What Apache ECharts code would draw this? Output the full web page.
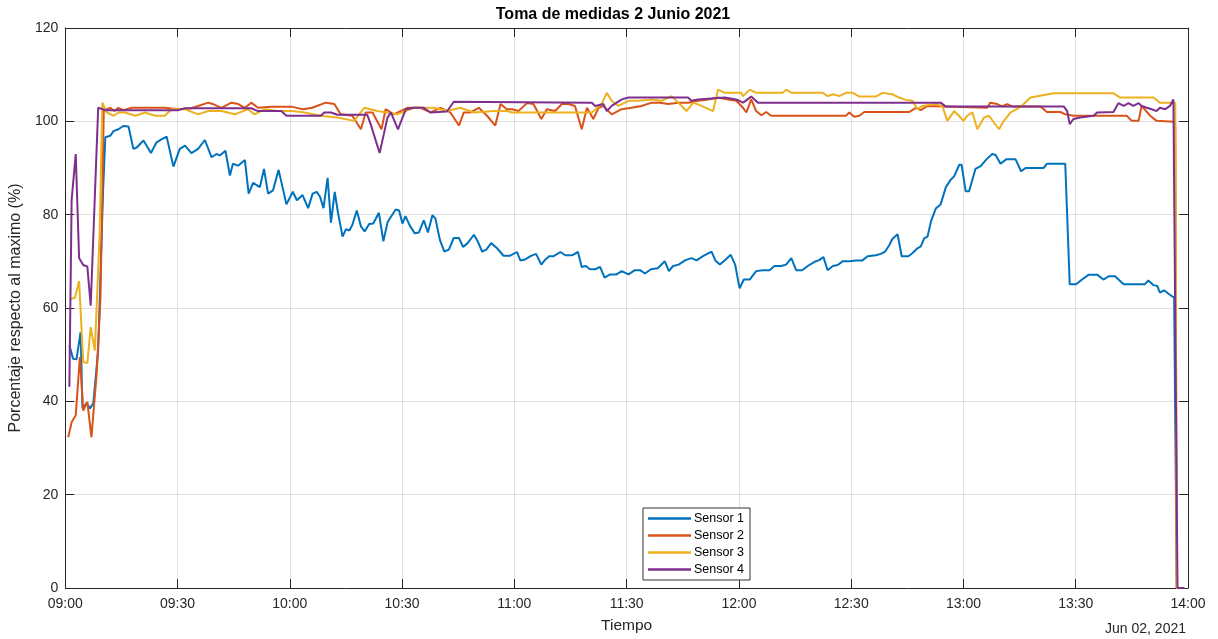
<!DOCTYPE html>
<html>
<head>
<meta charset="utf-8">
<script src="https://cdn.jsdelivr.net/npm/echarts@6/dist/echarts.min.js"></script>
<style>
html,body{margin:0;padding:0;background:#fff;}
#chart{width:1218px;height:639px;}
</style>
</head>
<body>
<div id="chart"></div>
<script>
// Time in minutes after 09:00, value in %
const seriesNames = ['Sensor 1','Sensor 2','Sensor 3','Sensor 4'];
const xTickMinutes = [0,30,60,90,120,150,180,210,240,270,300];
const yTicks = [0,20,40,60,80,100,120];

const sensor1 = [[1.1,52.0],[2.1,49.1],[3.0,49.0],[4.1,54.8],[4.6,38.5],[5.7,39.6],[6.6,38.5],[7.5,39.6],[8.8,51.0],[10.1,85.0],[10.7,96.6],[12.0,96.9],[12.9,97.9],[14.2,98.3],[15.5,99.0],[16.9,98.9],[18.2,94.1],[19.1,94.4],[20.9,95.9],[22.9,93.2],[24.4,95.5],[25.8,96.2],[27.1,96.7],[28.9,90.3],[30.6,94.1],[32.0,94.8],[33.7,93.2],[35.5,94.1],[37.3,96.0],[39.1,92.3],[40.4,93.0],[41.3,92.7],[42.8,93.7],[44.0,88.4],[44.8,90.9],[46.2,90.5],[48.0,91.7],[49.0,84.5],[50.2,86.8],[52.0,85.9],[53.1,89.8],[54.2,84.5],[55.5,85.2],[57.0,89.6],[59.1,82.2],[60.8,84.9],[61.9,83.1],[63.4,84.2],[64.9,81.4],[66.1,84.5],[67.2,84.9],[68.1,83.8],[69.0,81.4],[70.1,87.9],[71.0,78.3],[72.0,84.9],[72.9,80.3],[74.1,75.3],[75.0,76.9],[75.9,76.6],[76.7,77.8],[77.9,80.9],[79.0,77.5],[80.0,76.4],[81.2,78.0],[82.3,78.1],[83.8,80.4],[85.0,74.3],[86.1,78.3],[86.9,79.4],[88.3,81.1],[89.2,80.9],[90.1,78.1],[90.9,79.7],[92.1,77.6],[93.4,76.0],[94.5,76.2],[95.8,78.8],[96.9,76.2],[98.1,79.9],[98.9,79.2],[100.1,74.6],[101.3,72.1],[102.5,72.5],[103.8,75.0],[105.2,75.0],[106.3,73.1],[107.4,73.8],[109.2,75.7],[110.2,74.3],[111.4,72.1],[112.5,72.5],[113.8,73.9],[115.4,72.8],[117.1,71.2],[118.9,71.2],[120.7,72.0],[121.6,70.2],[122.9,70.4],[124.3,71.1],[125.8,71.6],[127.2,69.3],[128.3,70.4],[129.3,71.1],[130.5,71.1],[132.3,72.0],[133.6,71.3],[135.4,71.3],[137.0,72.0],[138.0,68.8],[139.1,69.0],[140.2,68.3],[141.6,68.3],[142.9,68.8],[144.1,66.5],[145.6,67.2],[147.3,67.2],[148.7,67.9],[150.5,67.2],[152.2,68.1],[153.6,68.1],[154.9,67.4],[156.5,68.3],[158.3,68.5],[160.2,70.0],[161.3,67.9],[162.4,69.0],[163.9,69.3],[165.6,70.2],[167.3,70.7],[168.7,70.2],[170.4,71.1],[172.7,72.1],[173.7,70.2],[174.9,69.3],[176.2,70.2],[177.8,71.4],[179.0,69.3],[179.8,65.8],[180.2,64.2],[181.3,66.1],[182.9,66.1],[184.6,67.9],[186.4,68.1],[188.2,68.1],[189.5,69.0],[191.3,69.0],[192.6,69.3],[194.0,70.7],[195.3,68.1],[196.9,68.1],[198.4,69.0],[200.2,69.9],[201.3,70.2],[202.6,70.9],[203.7,68.1],[205.1,69.0],[206.4,69.2],[207.7,70.0],[209.5,70.0],[211.3,70.2],[213.0,70.2],[214.4,71.1],[216.6,71.3],[217.9,71.6],[219.1,72.1],[220.2,73.5],[221.0,74.8],[222.4,75.8],[223.5,71.1],[225.3,71.1],[226.4,71.8],[227.7,72.8],[228.6,73.2],[229.5,74.9],[230.4,75.3],[231.3,78.5],[232.6,81.3],[233.9,82.2],[235.3,85.9],[236.6,87.5],[237.5,88.2],[238.9,90.7],[239.5,90.7],[240.6,85.0],[241.5,85.0],[243.2,89.8],[244.6,90.4],[246.2,91.9],[247.7,93.0],[248.6,92.8],[249.9,90.9],[251.5,91.9],[253.9,91.9],[255.4,89.3],[256.6,90.0],[261.4,90.0],[262.3,90.9],[267.2,90.9],[268.4,65.1],[270.1,65.1],[271.7,66.1],[273.4,67.1],[275.8,67.1],[277.4,66.1],[278.8,66.8],[280.5,66.8],[282.8,65.1],[288.5,65.1],[289.4,65.9],[290.8,64.9],[291.8,64.7],[292.5,63.3],[293.6,63.8],[294.7,63.1],[296.3,62.2],[297.0,0],[299.0,0]];

const sensor2 = [[0.8,32.3],[1.7,35.5],[2.8,37.0],[3.9,49.5],[4.8,38.0],[5.9,39.9],[7.0,32.3],[8.4,46.0],[9.4,62.0],[10.3,102.6],[11.1,102.6],[12.0,102.9],[13.1,102.2],[14.2,102.9],[15.5,102.4],[17.8,102.9],[26.6,102.9],[30.2,102.6],[33.7,102.8],[38.2,104.0],[39.5,103.7],[41.7,102.9],[44.4,104.0],[46.2,103.7],[48.0,102.9],[49.7,104.0],[51.5,102.9],[55.1,103.1],[60.7,103.1],[63.5,102.6],[66.0,102.9],[69.6,104.0],[71.9,103.7],[73.6,101.5],[76.7,101.2],[79.0,98.3],[80.3,101.9],[82.1,101.9],[84.5,98.3],[85.6,102.6],[87.8,101.5],[91.4,102.9],[94.9,102.9],[97.6,101.9],[100.3,102.9],[102.9,101.9],[105.2,99.1],[106.5,101.9],[108.3,101.9],[110.5,102.9],[112.7,101.2],[114.9,99.1],[116.3,103.7],[118.0,102.6],[119.4,102.6],[121.1,102.2],[123.4,103.9],[125.1,103.7],[127.2,100.5],[128.7,102.6],[130.9,102.2],[132.7,103.7],[134.5,103.7],[136.2,103.3],[138.0,98.3],[139.4,102.9],[141.1,100.5],[142.5,102.9],[143.8,103.3],[146.0,101.5],[148.7,102.6],[151.3,102.9],[154.0,103.3],[156.7,104.0],[158.9,104.0],[161.1,103.7],[163.8,104.0],[166.4,104.0],[169.1,104.4],[171.8,104.7],[174.4,105.1],[177.1,104.7],[179.3,104.4],[181.1,102.9],[182.0,101.9],[183.3,104.7],[184.6,102.2],[186.0,101.3],[187.3,102.0],[188.6,101.2],[208.6,101.2],[209.5,101.9],[210.8,101.0],[212.2,101.2],[213.5,102.0],[225.5,102.0],[227.3,102.9],[228.6,102.4],[230.4,103.3],[246.3,102.9],[247.2,104.0],[249.0,103.7],[250.3,103.2],[251.7,103.7],[253.0,103.2],[260.6,103.2],[262.3,102.0],[265.9,102.0],[267.2,101.5],[269.4,101.2],[283.6,101.2],[285.0,100.1],[286.8,100.1],[287.6,103.3],[289.9,101.2],[291.6,100.1],[296.1,99.9],[296.6,99.1],[297.0,0],[299.0,0]];

const sensor3 = [[1.2,61.9],[2.6,62.2],[3.7,65.8],[4.8,48.4],[5.9,48.2],[6.8,55.9],[7.9,50.9],[9.2,76.0],[9.9,104.0],[11.1,101.9],[12.9,101.2],[14.2,101.9],[16.0,101.9],[18.7,101.2],[21.3,101.9],[24.0,101.2],[26.6,101.2],[28.4,102.6],[32.0,102.6],[35.5,101.5],[38.2,102.2],[41.7,102.2],[45.3,101.5],[48.8,102.6],[50.6,101.5],[53.3,102.6],[56.8,102.2],[60.7,102.2],[63.9,101.9],[68.3,101.2],[72.7,100.8],[77.2,100.1],[79.9,102.9],[83.4,102.2],[88.7,101.5],[93.2,102.9],[98.5,102.9],[102.0,102.2],[105.6,102.9],[109.2,101.9],[114.5,102.2],[118.0,102.2],[119.4,101.9],[140.7,101.9],[143.3,103.7],[144.7,106.1],[146.0,104.4],[147.8,103.3],[150.5,104.4],[153.1,104.4],[156.7,104.7],[159.3,104.4],[162.0,105.4],[163.8,104.0],[166.0,102.2],[167.8,104.0],[170.0,103.3],[173.1,102.2],[174.4,106.8],[176.2,106.1],[180.6,106.1],[181.1,105.4],[182.9,106.8],[184.6,106.1],[191.7,106.1],[192.6,106.8],[194.0,106.1],[202.4,106.1],[203.7,105.4],[205.1,105.8],[206.8,105.4],[208.6,106.1],[210.4,106.1],[212.2,105.3],[216.6,105.3],[218.4,106.1],[221.0,105.8],[222.8,105.1],[224.6,104.6],[226.4,104.4],[227.7,102.6],[229.0,103.3],[232.6,103.7],[234.4,103.2],[235.7,100.1],[237.5,102.2],[238.8,101.2],[240.0,100.1],[241.0,101.2],[242.4,101.9],[243.7,98.3],[245.5,100.8],[246.8,101.2],[248.1,99.8],[249.5,98.3],[250.8,100.1],[252.6,101.9],[254.3,102.6],[256.1,103.7],[257.9,105.1],[264.1,106.0],[280.1,106.0],[281.9,105.1],[290.8,105.1],[292.5,104.0],[296.6,104.0],[297.0,0],[299.0,0]];

const sensor4 = [[1.1,43.1],[1.7,83.1],[2.8,93.0],[3.7,70.7],[4.8,69.2],[5.9,68.9],[6.8,60.5],[8.8,102.9],[10.7,102.4],[30.2,102.4],[32.0,102.8],[49.7,102.8],[51.5,102.2],[57.7,102.2],[59.1,101.2],[68.3,101.2],[69.2,101.9],[71.0,101.9],[72.7,101.4],[80.7,101.4],[81.6,99.4],[84.0,93.2],[86.1,100.8],[87.0,101.9],[88.9,98.3],[91.0,102.6],[93.2,102.9],[95.8,102.9],[97.6,101.9],[102.0,102.1],[103.8,104.2],[140.7,104.0],[141.6,103.3],[143.8,103.7],[144.7,102.2],[146.0,103.3],[148.7,104.7],[150.5,105.1],[166.4,105.1],[167.3,104.4],[169.1,104.7],[172.7,104.9],[176.2,105.1],[179.3,104.7],[181.1,104.0],[183.3,105.3],[185.1,104.0],[233.9,104.0],[235.2,103.2],[266.8,103.2],[267.7,102.2],[268.4,99.4],[269.4,100.5],[271.2,100.8],[274.8,101.2],[275.7,101.9],[280.1,102.0],[281.4,103.9],[282.8,103.3],[284.1,103.9],[285.4,103.3],[286.8,103.9],[287.6,103.3],[289.0,102.9],[290.3,102.6],[291.6,102.2],[292.5,102.9],[293.9,102.6],[295.2,103.3],[296.1,104.7],[296.6,104.7],[297.2,0],[299.0,0]];

const colors = ['#0072BD','#D95319','#EDB120','#7E2F8E'];
const FONT = '"Liberation Sans", Arial, Helvetica, sans-serif';
const AX = '#262626';

function fmtTime(m){
  const h = 9 + Math.floor(m/60), mm = Math.round(m % 60);
  return String(h).padStart(2,'0') + ':' + String(mm).padStart(2,'0');
}

const chart = echarts.init(document.getElementById('chart'), null, {renderer:'canvas'});
const xMin = xTickMinutes[0], xMax = xTickMinutes[xTickMinutes.length-1];
const xInt = xTickMinutes[1]-xTickMinutes[0];
const yMin = yTicks[0], yMax = yTicks[yTicks.length-1], yInt = yTicks[1]-yTicks[0];

const baseX = {
  type:'value', min:xMin, max:xMax, interval:xInt,
  axisLine:{show:true, onZero:false, lineStyle:{color:AX, width:1}},
  axisTick:{show:true, inside:true, length:9, lineStyle:{color:AX}},
};
const baseY = {
  type:'value', min:yMin, max:yMax, interval:yInt,
  axisLine:{show:true, onZero:false, lineStyle:{color:AX, width:1}},
  axisTick:{show:true, inside:true, length:9, lineStyle:{color:AX}},
};

const data = [sensor1, sensor2, sensor3, sensor4];

chart.setOption({
  animation:false,
  backgroundColor:'#ffffff',
  grid:{left:62, right:30, top:28, bottom:46, containLabel:false},
  xAxis:[
    Object.assign({}, baseX, {
      position:'bottom',
      name:'Tiempo', nameLocation:'middle', nameGap:30,
      nameTextStyle:{fontFamily:FONT, fontSize:15.5, color:AX},
      axisLabel:{show:true, margin:9, fontFamily:FONT, fontSize:14, color:AX, formatter:fmtTime},
      splitLine:{show:true, lineStyle:{color:'#dfdfdf', width:1}}
    }),
    Object.assign({}, baseX, {
      position:'top', axisLabel:{show:false}, splitLine:{show:false}
    })
  ],
  yAxis:[
    Object.assign({}, baseY, {
      position:'left',
      name:'Porcentaje respecto al maximo (%)', nameLocation:'middle', nameGap:32,
      nameTextStyle:{fontFamily:FONT, fontSize:16, color:AX},
      axisLabel:{show:true, margin:7, fontFamily:FONT, fontSize:14, color:AX},
      splitLine:{show:true, lineStyle:{color:'#dfdfdf', width:1}}
    }),
    Object.assign({}, baseY, {
      position:'right', axisLabel:{show:false}, splitLine:{show:false}
    })
  ],
  legend:{
    orient:'vertical', left:643, top:508,
    data:seriesNames,
    itemWidth:43, itemHeight:14, itemGap:4,
    padding:[4,6,4,5],
    borderColor:'#333', borderWidth:1, backgroundColor:'#fff', borderRadius:0,
    textStyle:{fontFamily:FONT, fontSize:12.5, color:'#000', padding:[0,0,0,-2]},
    icon:'path://M0,6 L43,6 L43,8.5 L0,8.5 Z'
  },
  graphic:[
    {type:'text', x:613, y:15, style:{text:'Toma de medidas 2 Junio 2021', fontFamily:FONT, fontWeight:'bold', fontSize:16, fill:'#000', textAlign:'center', textVerticalAlign:'middle'}},
    {type:'text', x:1186, y:629, style:{text:'Jun 02, 2021', fontFamily:FONT, fontSize:14, fill:AX, textAlign:'right', textVerticalAlign:'middle'}}
  ],
  series: seriesNames.map((n,i)=>({
    name:n, type:'line', xAxisIndex:0, yAxisIndex:0,
    data:data[i], symbol:'none', showSymbol:false,
    lineStyle:{color:colors[i], width:2},
    itemStyle:{color:colors[i]},
    clip:true, z:2+i
  }))
});
</script>
</body>
</html>
